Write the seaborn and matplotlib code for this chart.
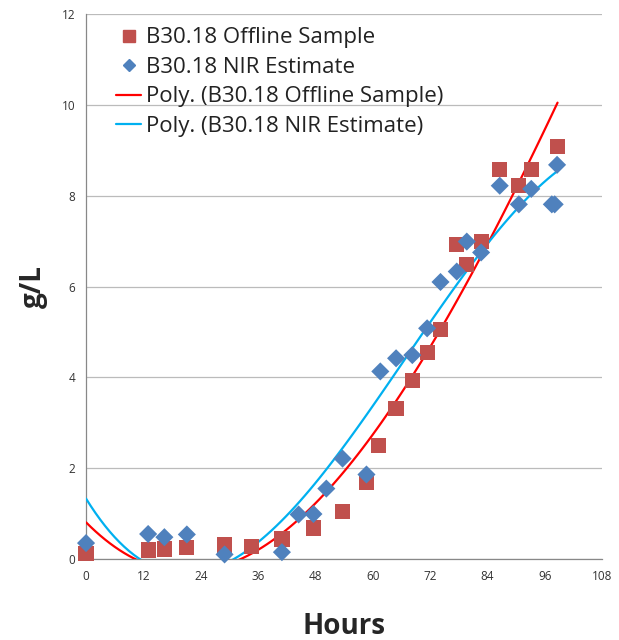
import numpy as np
import pandas as pd
import matplotlib
matplotlib.use("Agg")
import matplotlib.pyplot as plt
import seaborn as sns
from matplotlib.lines import Line2D

# Offline sample data (hours, g/L)
off_hours = [0, 13.0, 16.4, 21.1, 29.0, 34.7, 41.0, 47.6, 53.7, 58.7, 61.3,
             64.9, 68.3, 71.5, 74.2, 77.6, 79.7, 82.7, 86.6, 90.6, 93.2, 98.7]
off_vals = [0.12, 0.20, 0.22, 0.26, 0.31, 0.27, 0.44, 0.68, 1.04, 1.68, 2.50,
            3.32, 3.93, 4.55, 5.05, 6.92, 6.49, 7.00, 8.58, 8.23, 8.58, 9.09]

# NIR estimate data
nir_hours = [0, 13.0, 16.4, 21.1, 29.0, 41.0, 44.5, 47.6, 50.3, 53.7, 58.7,
             61.6, 64.9, 68.3, 71.4, 74.2, 77.6, 79.7, 82.7, 86.6, 90.6, 93.2,
             97.5, 98.1, 98.6]
nir_vals = [0.35, 0.55, 0.48, 0.54, 0.10, 0.15, 0.98, 0.99, 1.55, 2.21, 1.86,
            4.13, 4.42, 4.49, 5.08, 6.10, 6.33, 6.99, 6.75, 8.22, 7.81, 8.15,
            7.81, 7.81, 8.68]

x_ticks = [0, 12, 24, 36, 48, 60, 72, 84, 96, 108]
y_ticks = [0, 2, 4, 6, 8, 10, 12]

off_df = pd.DataFrame({"Hours": off_hours, "g/L": off_vals})
nir_df = pd.DataFrame({"Hours": nir_hours, "g/L": nir_vals})

sns.set_style("white")
plt.rcParams['font.family'] = ['Open Sans', 'DejaVu Sans']

fig = plt.figure(figsize=(6.19, 6.4), dpi=100)
ax = fig.add_axes([0.139, 0.1266, 0.8335, 0.8514])

sq_color = "#C0504D"
di_color = "#4F81BD"
red_line = "#FF0000"
blue_line = "#00B0F0"

# polynomial trendlines (order 3)
sns.regplot(data=off_df, x="Hours", y="g/L", order=3, ci=None, scatter=False,
            truncate=True, ax=ax, line_kws=dict(color=red_line, lw=1.6, zorder=3))
sns.regplot(data=nir_df, x="Hours", y="g/L", order=3, ci=None, scatter=False,
            truncate=True, ax=ax, line_kws=dict(color=blue_line, lw=1.6, zorder=3))

sns.scatterplot(data=off_df, x="Hours", y="g/L", marker="s", s=120,
                color=sq_color, edgecolor="none", ax=ax, zorder=4,
                clip_on=False)
sns.scatterplot(data=nir_df, x="Hours", y="g/L", marker="D", s=85,
                color=di_color, edgecolor="none", ax=ax, zorder=5,
                clip_on=False)

ax.set_xlim(0, 108)
ax.set_ylim(0, 12)
ax.set_xticks(x_ticks)
ax.set_yticks(y_ticks)
ax.tick_params(axis="both", labelsize=8.5, colors="#333333", length=4,
               width=0.8, color="#888888", direction="out")
ax.tick_params(axis="x", pad=4)
ax.yaxis.grid(True, color="#BBBBBB", lw=0.9)
ax.xaxis.grid(False)
for side in ["top", "right"]:
    ax.spines[side].set_visible(False)
for side in ["left", "bottom"]:
    ax.spines[side].set_color("#888888")
    ax.spines[side].set_linewidth(0.9)

ax.set_xlabel("Hours", fontsize=20, fontweight="bold", labelpad=21)
ax.set_ylabel("g/L", fontsize=20, fontweight="bold", labelpad=10)

handles = [
    Line2D([], [], marker="s", ls="none", color=sq_color, markersize=8),
    Line2D([], [], marker="D", ls="none", color=di_color, markersize=6.5),
    Line2D([], [], color=red_line, lw=1.6),
    Line2D([], [], color=blue_line, lw=1.6),
]
labels = ["B30.18 Offline Sample", "B30.18 NIR Estimate",
          "Poly. (B30.18 Offline Sample)", "Poly. (B30.18 NIR Estimate)"]
leg = ax.legend(handles, labels, loc="upper left", bbox_to_anchor=(0.033, 1.0),
                frameon=False, fontsize=16, handlelength=1.1,
                handletextpad=0.25, labelspacing=0.38, borderaxespad=0.2)
for t in leg.get_texts():
    t.set_color("#222222")

fig.savefig("out.png", dpi=100)
